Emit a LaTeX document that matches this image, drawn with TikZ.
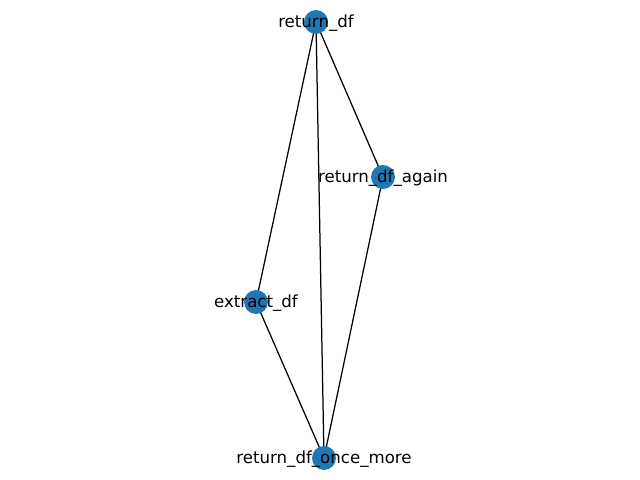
\documentclass[tikz,border=0pt]{standalone}
\usepackage{fontspec}
\setmainfont{DejaVu Sans}
\definecolor{nodeblue}{HTML}{1F77B4}
\begin{document}
\begin{tikzpicture}[x=0.01in, y=-0.01in, font=\fontsize{12pt}{14pt}\selectfont, line join=round, line cap=round,
    vertex/.style={circle, fill=nodeblue, inner sep=0pt, minimum size=17.3pt},
    lbl/.style={yshift=-0.7pt}]
    \useasboundingbox (0,0) rectangle (640,480);
    \coordinate (rdf) at (316,22);
    \coordinate (again) at (383,177);
    \coordinate (extract) at (256,302);
    \coordinate (more) at (324,458);
    \draw[line width=0.9pt] (rdf)--(extract) (rdf)--(more) (rdf)--(again) (again)--(more) (extract)--(more);
    \foreach \n in {rdf,again,extract,more} \node[vertex] at (\n) {};
    \node[lbl] at (rdf) {return\_df};
    \node[lbl] at (again) {return\_df\_again};
    \node[lbl] at (extract) {extract\_df};
    \node[lbl] at (more) {return\_df\_once\_more};
\end{tikzpicture}
\end{document}
